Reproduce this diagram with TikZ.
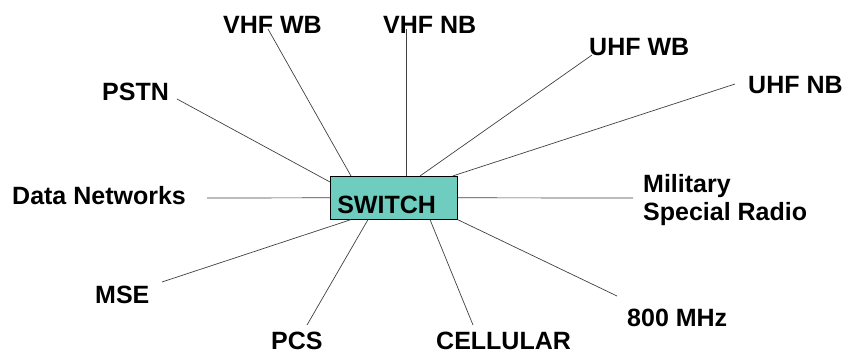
\documentclass[tikz,border=0pt]{standalone}
\usepackage{fontspec}
\setmainfont{Liberation Sans}
\usepackage{tikz}

\definecolor{switchteal}{RGB}{110,205,190}

\begin{document}
\begin{tikzpicture}[x=1pt, y=-1pt,
        net/.style={anchor=base west, inner sep=0pt, font=\bfseries\fontsize{25}{28}\selectfont},
        link/.style={draw=black!75, line width=0.7pt}]
            \useasboundingbox (0,0) rectangle (844,354);
            \begin{scope}
                \node[shape=rectangle, draw, fill=switchteal, line width=0.6pt,
                    anchor=north west, inner xsep=7pt, inner ysep=0pt,
                    text width=113pt, align=left, text height=37pt, text depth=6pt,
                    font=\bfseries\fontsize{25}{28}\selectfont] (Switch) at (330,176) {SWITCH};
                \node[net] (VHFWB) at (223,33) {VHF WB};
                \node[net] (VHFNB) at (383,33) {VHF NB};
                \node[net] (UHFWB) at (589,55) {UHF WB};
                \node[net] (UHFNB) at (748,93) {UHF NB};
                \node[net] (PSTN) at (102,100) {PSTN};
                \node[net] (DataNetworks) at (12,204) {Data Networks};
                \node[net, anchor=north west, align=left] (Military) at (643,174) {Military\\Special Radio};
                \node[net] (MSE) at (95,303) {MSE};
                \node[net] (PCS) at (271,349) {PCS};
                \node[net] (Cellular) at (436,349) {CELLULAR};
                \node[net] (MHz) at (627,326) {800 MHz};
            \end{scope}
            % free ends of the spokes
            \coordinate (pstn-end) at (177,99);
            \coordinate (vhfwb-end) at (268,29);
            \coordinate (vhfnb-end) at (406,29);
            \coordinate (uhfwb-end) at (592,55);
            \coordinate (uhfnb-end) at (735,84);
            \coordinate (data-end) at (207,198);
            \coordinate (military-end) at (633,198);
            \coordinate (mse-end) at (162,282);
            \coordinate (pcs-end) at (307,325);
            \coordinate (cellular-end) at (473,325);
            \coordinate (mhz-end) at (617,296);
            % spokes
            \draw[link] (pstn-end) -- ([yshift=-6pt]Switch.north west);
            \draw[link] (vhfwb-end) -- ([xshift=21pt]Switch.north west);
            \draw[link] (vhfnb-end) -- ([xshift=76pt]Switch.north west);
            \draw[link] (uhfwb-end) -- ([xshift=90pt]Switch.north west);
            \draw[link] (uhfnb-end) -- ([xshift=-5pt]Switch.north east);
            \draw[link] (data-end) -- (Switch.west);
            \draw[link] (Switch.east) -- (military-end);
            \draw[link] (mse-end) -- ([xshift=21pt]Switch.south west);
            \draw[link] (pcs-end) -- ([xshift=38pt]Switch.south west);
            \draw[link] (cellular-end) -- ([xshift=100pt]Switch.south west);
            \draw[link] (mhz-end) -- (Switch.south east);
        \end{tikzpicture}
\end{document}
